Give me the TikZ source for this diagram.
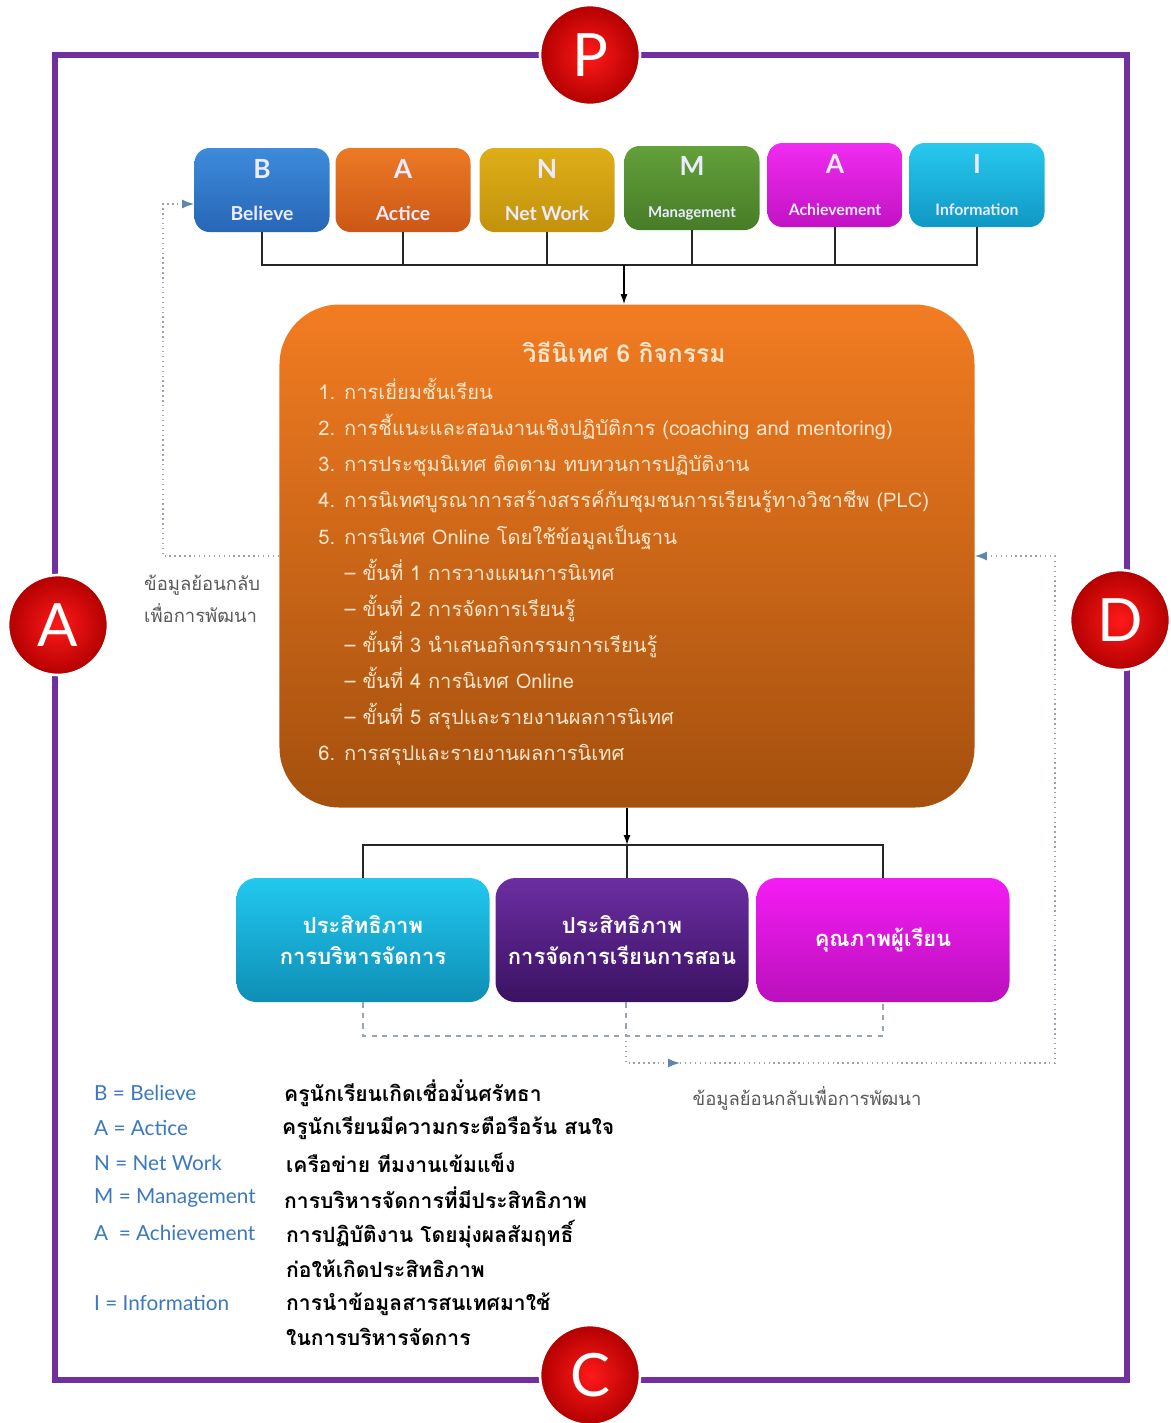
\documentclass[tikz,border=0pt]{standalone}
\usepackage{fontspec}
\setmainfont{Loma}[Script=Thai]
\newfontfamily\latinfont{Lato}
\usepackage{tikz}
\usetikzlibrary{arrows.meta,positioning,calc}
\usepackage{xcolor}
\definecolor{framepurple}{HTML}{7030A0}
\definecolor{fbgray}{HTML}{98A4B0}
\definecolor{fbblue}{HTML}{5F86AE}
\definecolor{keyblue}{HTML}{3A78C0}
\definecolor{listcream}{HTML}{FBE6CC}
\definecolor{bTop}{HTML}{3D8BDA}\definecolor{bBot}{HTML}{2766B6}
\definecolor{aTop}{HTML}{EC7A24}\definecolor{aBot}{HTML}{CC5716}
\definecolor{nTop}{HTML}{DEAE18}\definecolor{nBot}{HTML}{C2920C}
\definecolor{mTop}{HTML}{63A03A}\definecolor{mBot}{HTML}{487C28}
\definecolor{achTop}{HTML}{F02CF0}\definecolor{achBot}{HTML}{C212C4}
\definecolor{iTop}{HTML}{28C8EE}\definecolor{iBot}{HTML}{1098C4}
\definecolor{cyTop}{HTML}{22C8EE}\definecolor{cyBot}{HTML}{0E8EB6}
\definecolor{puTop}{HTML}{6C2EA2}\definecolor{puBot}{HTML}{3A1262}
\definecolor{mgTop}{HTML}{F41CF4}\definecolor{mgBot}{HTML}{BA10BC}
\definecolor{orTop}{HTML}{F27C22}\definecolor{orBot}{HTML}{A4500E}
\tikzset{
  letterbox/.style={rounded corners=3mm, minimum width=27mm, minimum height=16.8mm, align=center, text=white!92!blue, inner sep=2pt, font=\latinfont\bfseries},
  resultbox/.style={rounded corners=4mm, minimum width=50.6mm, minimum height=24.8mm, align=center, text=white, inner sep=3pt, font=\bfseries\fontsize{12.5}{18}\selectfont},
  mainbox/.style={rounded corners=12mm, minimum width=139mm, minimum height=100.6mm, top color=orTop, bottom color=orBot},
  badge/.style={circle, minimum size=20mm, inner sep=0pt, draw=white, line width=1.5pt, inner color=red!90!white, outer color=red!70!black, text=white, font=\latinfont\fontsize{34}{34}\selectfont},
  link/.style={line width=1.2pt, black!85},
  arrow/.style={-{Latex[length=2mm,width=1.4mm]}, line width=0.75pt},
  dashline/.style={dashed, line width=0.8pt, fbgray},
  fbarrow/.style={dotted, line width=0.8pt, fbgray, -{Latex[length=2.4mm,width=1.8mm,color=fbblue,fill=fbblue]}},
  frame/.style={draw=framepurple, line width=3pt},
  lbl/.style={font=\fontsize{10.5}{18}\selectfont, text=black!65, align=left},
  keyname/.style={font=\latinfont\fontsize{11.8}{14}\selectfont, text=keyblue, anchor=west},
  keytext/.style={font=\bfseries\fontsize{12}{20}\selectfont, anchor=west, align=left}
}
\begin{document}
\begin{tikzpicture}[x=0.2mm, y=-0.2mm]
\useasboundingbox (0,0) rectangle (1171,1423);
\draw[frame] (55,55) rectangle (1127,1380);
% six letter boxes
\node[letterbox, top color=bTop, bottom color=bBot] (b) at (262,190) {\fontsize{15}{15}\selectfont B\\[12pt]\fontsize{11}{11}\selectfont Believe};
\node[letterbox, top color=aTop, bottom color=aBot] (ac) at (403,190) {\fontsize{15}{15}\selectfont A\\[12pt]\fontsize{11}{11}\selectfont Actice};
\node[letterbox, top color=nTop, bottom color=nBot] (nw) at (547,190) {\fontsize{15}{15}\selectfont N\\[12pt]\fontsize{11}{11}\selectfont Net Work};
\node[letterbox, top color=mTop, bottom color=mBot] (mg) at (692,188) {\fontsize{15}{15}\selectfont M\\[12pt]\fontsize{8.5}{8.5}\selectfont Management};
\node[letterbox, top color=achTop, bottom color=achBot] (ach) at (835,185) {\fontsize{15}{15}\selectfont A\\[12pt]\fontsize{9}{9}\selectfont Achievement};
\node[letterbox, top color=iTop, bottom color=iBot] (inf) at (977,185) {\fontsize{15}{15}\selectfont I\\[12pt]\fontsize{9}{9}\selectfont Information};
\coordinate (topbus) at (624,265);
\draw[link] (b.south) |- (topbus) -| (inf.south);
\draw[link] (ac.south) -- (ac.south |- topbus);
\draw[link] (nw.south) -- (nw.south |- topbus);
\draw[link] (mg.south) -- (mg.south |- topbus);
\draw[link] (ach.south) -- (ach.south |- topbus);
% six activities
\node[mainbox] (main) at (627,556) {};
\node[font=\bfseries\fontsize{14}{16}\selectfont, text=listcream] (title) at (624,352) {วิธีนิเทศ 6 กิจกรรม};
\node[font=\fontsize{11.45}{20.5}\selectfont, text=listcream, align=left, anchor=west, inner sep=0pt] (steps) at (318,572) {1. การเยี่ยมชั้นเรียน\\
2. การชี้แนะและสอนงานเชิงปฏิบัติการ (coaching and mentoring)\\
3. การประชุมนิเทศ ติดตาม ทบทวนการปฏิบัติงาน\\
4. การนิเทศบูรณาการสร้างสรรค์กับชุมชนการเรียนรู้ทางวิชาชีพ (PLC)\\
5. การนิเทศ Online โดยใช้ข้อมูลเป็นฐาน\\
\hspace*{15pt}– ขั้นที่ 1 การวางแผนการนิเทศ\\
\hspace*{15pt}– ขั้นที่ 2 การจัดการเรียนรู้\\
\hspace*{15pt}– ขั้นที่ 3 นำเสนอกิจกรรมการเรียนรู้\\
\hspace*{15pt}– ขั้นที่ 4 การนิเทศ Online\\
\hspace*{15pt}– ขั้นที่ 5 สรุปและรายงานผลการนิเทศ\\
6. การสรุปและรายงานผลการนิเทศ};
\draw[arrow] (topbus) -- (topbus |- main.north);
% results
\node[resultbox, top color=cyTop, bottom color=cyBot] (mgmt) at (363,940) {ประสิทธิภาพ\\การบริหารจัดการ};
\node[resultbox, top color=puTop, bottom color=puBot] (teach) at (622,940) {ประสิทธิภาพ\\การจัดการเรียนการสอน};
\node[resultbox, top color=mgTop, bottom color=mgBot] (learner) at (883,940) {คุณภาพผู้เรียน};
\coordinate (lowbus) at (627,845);
\draw[arrow] (main.south) -- (lowbus);
\draw[link] (mgmt.north) |- (lowbus) -| (learner.north);
\draw[link] (lowbus) -- (lowbus |- teach.north);
% feedback loops
\coordinate (dashbus) at (626,1036);
\coordinate (fbmid) at (680,1063);
\coordinate (fbcorner) at (1055,1063);
\coordinate (fbleft) at (163,204);
\draw[dashline] (mgmt.south) |- (dashbus) -| (learner.south);
\draw[dashline] (teach.south -| dashbus) -- (dashbus);
\draw[fbarrow] (dashbus) |- (fbmid);
\draw[fbarrow] (fbmid) -- (fbcorner) |- (main.east);
\draw[fbarrow] (main.west) -| (fbleft) -- (b.west |- fbleft);
\node[lbl, anchor=west] (fbtxtl) at (138,599) {ข้อมูลย้อนกลับ\\เพื่อการพัฒนา};
\node[lbl] (fbtxtr) at (807,1098) {ข้อมูลย้อนกลับเพื่อการพัฒนา};
% PACD badges
\node[badge] (p) at (590,55) {P};
\node[badge] (a) at (58,625) {A};
\node[badge] (d) at (1120,620) {D};
\node[badge] (c) at (590,1375) {C};
% key
\node[keyname] (kb) at (88,1093) {B = Believe};
\node[keyname] (ka) at (88,1128) {A = Actice};
\node[keyname] (kn) at (88,1163) {N = Net Work};
\node[keyname] (km) at (88,1198) {M = Management};
\node[keyname] (kach) at (88,1233) {A\ \ = Achievement};
\node[keyname] (ki) at (88,1303) {I = Information};
\node[keytext] (tb) at (278,1093) {ครูนักเรียนเกิดเชื่อมั่นศรัทธา};
\node[keytext] (ta) at (276,1128) {ครูนักเรียนมีความกระตือรือร้น สนใจ};
\node[keytext] (tn) at (280,1163) {เครือข่าย ทีมงานเข้มแข็ง};
\node[keytext] (tm) at (278,1198) {การบริหารจัดการที่มีประสิทธิภาพ};
\node[keytext] (tach) at (280,1249) {การปฏิบัติงาน โดยมุ่งผลสัมฤทธิ์\\ก่อให้เกิดประสิทธิภาพ};
\node[keytext] (ti) at (280,1319) {การนำข้อมูลสารสนเทศมาใช้\\ในการบริหารจัดการ};
\end{tikzpicture}
\end{document}
